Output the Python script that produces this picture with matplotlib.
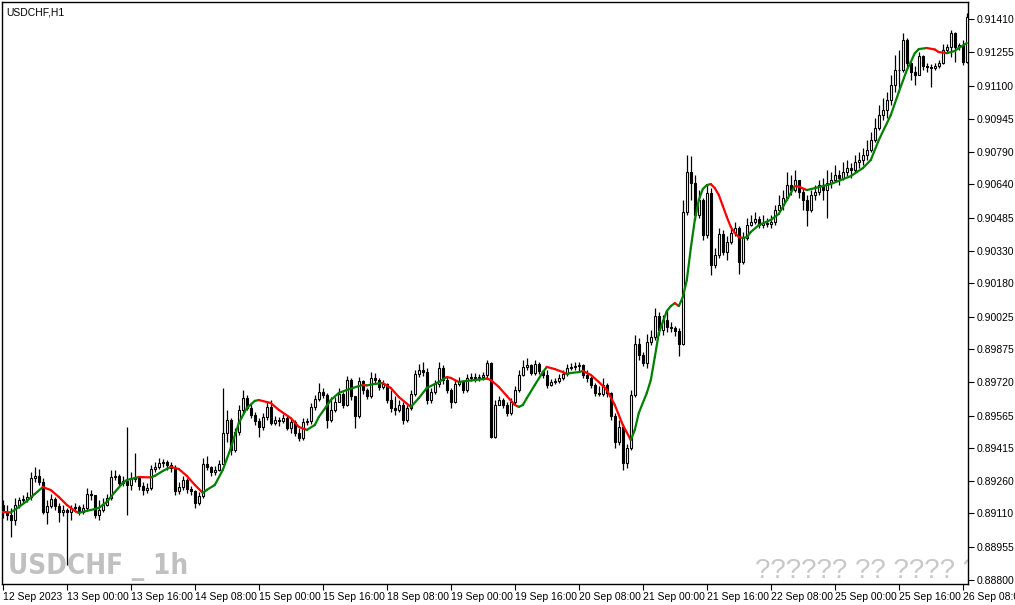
import matplotlib.pyplot as plt
from matplotlib.collections import LineCollection
import numpy as np

# USDCHF H1, 12 Sep 2023 08:00 .. 26 Sep 2023 09:00 (weekend skipped)
close = [0.89116, 0.89102, 0.89079, 0.89149, 0.89172, 0.89177, 0.89186, 0.89274, 0.89284, 0.89256,
         0.89116, 0.89144, 0.89177, 0.89144, 0.89116, 0.89126, 0.89116, 0.89135, 0.89139, 0.89116,
         0.89135, 0.89200, 0.89195, 0.89102, 0.89126, 0.89149, 0.89181, 0.89279, 0.89284, 0.89251,
         0.89260, 0.89242, 0.89270, 0.89279, 0.89237, 0.89219, 0.89228, 0.89316, 0.89326, 0.89344,
         0.89349, 0.89335, 0.89321, 0.89214, 0.89232, 0.89265, 0.89223, 0.89214, 0.89158, 0.89191,
         0.89339, 0.89326, 0.89302, 0.89312, 0.89339, 0.89484, 0.89544, 0.89405, 0.89488, 0.89591,
         0.89646, 0.89600, 0.89567, 0.89540, 0.89512, 0.89558, 0.89605, 0.89530, 0.89544, 0.89540,
         0.89553, 0.89507, 0.89535, 0.89484, 0.89460, 0.89535, 0.89540, 0.89605, 0.89642, 0.89674,
         0.89660, 0.89544, 0.89591, 0.89628, 0.89665, 0.89614, 0.89730, 0.89656, 0.89563, 0.89726,
         0.89684, 0.89656, 0.89740, 0.89730, 0.89698, 0.89712, 0.89637, 0.89600, 0.89591, 0.89614,
         0.89544, 0.89600, 0.89665, 0.89758, 0.89777, 0.89767, 0.89637, 0.89674, 0.89712, 0.89786,
         0.89730, 0.89684, 0.89628, 0.89712, 0.89726, 0.89684, 0.89740, 0.89744, 0.89740, 0.89744,
         0.89754, 0.89809, 0.89465, 0.89614, 0.89637, 0.89614, 0.89577, 0.89628, 0.89684, 0.89754,
         0.89791, 0.89800, 0.89763, 0.89805, 0.89772, 0.89754, 0.89707, 0.89721, 0.89726, 0.89740,
         0.89758, 0.89786, 0.89791, 0.89795, 0.89800, 0.89754, 0.89740, 0.89707, 0.89670, 0.89665,
         0.89707, 0.89670, 0.89563, 0.89442, 0.89512, 0.89344, 0.89414, 0.89660, 0.89898, 0.89847,
         0.89809, 0.89907, 0.89930, 0.90028, 0.89963, 0.90009, 0.89977, 0.89972, 0.89958, 0.89898,
         0.90512, 0.90698, 0.90647, 0.90498, 0.90568, 0.90405, 0.90600, 0.90265, 0.90312, 0.90409,
         0.90326, 0.90372, 0.90414, 0.90437, 0.90279, 0.90391, 0.90451, 0.90465, 0.90479, 0.90451,
         0.90461, 0.90456, 0.90465, 0.90521, 0.90544, 0.90577, 0.90637, 0.90614, 0.90661, 0.90605,
         0.90568, 0.90521, 0.90591, 0.90605, 0.90637, 0.90614, 0.90647, 0.90661, 0.90684, 0.90670,
         0.90698, 0.90716, 0.90707, 0.90744, 0.90754, 0.90777, 0.90800, 0.90847, 0.90903, 0.90963,
         0.90986, 0.91033, 0.91103, 0.91172, 0.91172, 0.91312, 0.91205, 0.91163, 0.91149, 0.91237,
         0.91191, 0.91186, 0.91182, 0.91191, 0.91205, 0.91265, 0.91279, 0.91344, 0.91279, 0.91289,
         0.91210, 0.91419]
high = [0.89172, 0.89149, 0.89135, 0.89181, 0.89186, 0.89195, 0.89209, 0.89302, 0.89326, 0.89316,
        0.89274, 0.89172, 0.89200, 0.89186, 0.89158, 0.89149, 0.89135, 0.89149, 0.89158, 0.89149,
        0.89153, 0.89228, 0.89219, 0.89186, 0.89172, 0.89181, 0.89200, 0.89312, 0.89312, 0.89293,
        0.89284, 0.89512, 0.89302, 0.89391, 0.89284, 0.89256, 0.89251, 0.89335, 0.89349, 0.89367,
        0.89363, 0.89358, 0.89349, 0.89335, 0.89256, 0.89284, 0.89274, 0.89237, 0.89219, 0.89209,
        0.89367, 0.89377, 0.89330, 0.89330, 0.89358, 0.89693, 0.89591, 0.89553, 0.89507, 0.89614,
        0.89684, 0.89660, 0.89623, 0.89581, 0.89553, 0.89577, 0.89628, 0.89637, 0.89563, 0.89558,
        0.89572, 0.89567, 0.89553, 0.89544, 0.89507, 0.89553, 0.89553, 0.89623, 0.89660, 0.89716,
        0.89693, 0.89670, 0.89651, 0.89651, 0.89693, 0.89674, 0.89749, 0.89740, 0.89656, 0.89744,
        0.89730, 0.89693, 0.89767, 0.89763, 0.89740, 0.89730, 0.89716, 0.89684, 0.89656, 0.89637,
        0.89628, 0.89614, 0.89684, 0.89777, 0.89805, 0.89814, 0.89786, 0.89693, 0.89730, 0.89814,
        0.89800, 0.89749, 0.89693, 0.89730, 0.89744, 0.89730, 0.89758, 0.89763, 0.89763, 0.89758,
        0.89767, 0.89823, 0.89814, 0.89637, 0.89656, 0.89646, 0.89628, 0.89646, 0.89702, 0.89777,
        0.89823, 0.89833, 0.89805, 0.89823, 0.89814, 0.89777, 0.89777, 0.89735, 0.89740, 0.89758,
        0.89777, 0.89805, 0.89809, 0.89814, 0.89814, 0.89805, 0.89777, 0.89749, 0.89716, 0.89702,
        0.89740, 0.89716, 0.89674, 0.89577, 0.89544, 0.89526, 0.89432, 0.89684, 0.89940, 0.89926,
        0.89860, 0.89944, 0.89963, 0.90065, 0.90047, 0.90033, 0.90056, 0.90000, 0.89981, 0.89972,
        0.90568, 0.90777, 0.90772, 0.90684, 0.90614, 0.90577, 0.90637, 0.90623, 0.90344, 0.90437,
        0.90428, 0.90400, 0.90437, 0.90465, 0.90447, 0.90419, 0.90484, 0.90498, 0.90512, 0.90493,
        0.90498, 0.90484, 0.90498, 0.90544, 0.90591, 0.90614, 0.90698, 0.90684, 0.90707, 0.90661,
        0.90623, 0.90591, 0.90614, 0.90637, 0.90661, 0.90670, 0.90707, 0.90698, 0.90730, 0.90707,
        0.90744, 0.90754, 0.90740, 0.90777, 0.90791, 0.90809, 0.90847, 0.90884, 0.90949, 0.91010,
        0.91042, 0.91070, 0.91149, 0.91242, 0.91265, 0.91344, 0.91321, 0.91210, 0.91191, 0.91256,
        0.91242, 0.91205, 0.91200, 0.91205, 0.91219, 0.91293, 0.91293, 0.91358, 0.91349, 0.91298,
        0.91312, 0.91437]
low = [0.89088, 0.89079, 0.89000, 0.89056, 0.89135, 0.89158, 0.89163, 0.89172, 0.89256, 0.89242,
       0.89107, 0.89060, 0.89135, 0.89126, 0.89070, 0.89098, 0.88870, 0.89079, 0.89116, 0.89102,
       0.89107, 0.89126, 0.89172, 0.89088, 0.89079, 0.89116, 0.89144, 0.89172, 0.89265, 0.89237,
       0.89237, 0.89102, 0.89219, 0.89256, 0.89219, 0.89195, 0.89205, 0.89219, 0.89302, 0.89316,
       0.89326, 0.89312, 0.89302, 0.89195, 0.89200, 0.89219, 0.89205, 0.89195, 0.89135, 0.89149,
       0.89181, 0.89312, 0.89284, 0.89288, 0.89307, 0.89395, 0.89442, 0.89381, 0.89395, 0.89474,
       0.89572, 0.89591, 0.89553, 0.89521, 0.89465, 0.89498, 0.89544, 0.89521, 0.89521, 0.89516,
       0.89530, 0.89498, 0.89484, 0.89470, 0.89446, 0.89451, 0.89521, 0.89526, 0.89591, 0.89633,
       0.89646, 0.89507, 0.89535, 0.89581, 0.89637, 0.89600, 0.89609, 0.89637, 0.89507, 0.89553,
       0.89665, 0.89642, 0.89646, 0.89712, 0.89684, 0.89688, 0.89623, 0.89581, 0.89567, 0.89581,
       0.89526, 0.89535, 0.89591, 0.89656, 0.89744, 0.89749, 0.89619, 0.89623, 0.89665, 0.89698,
       0.89712, 0.89670, 0.89600, 0.89623, 0.89702, 0.89670, 0.89674, 0.89726, 0.89721, 0.89726,
       0.89730, 0.89740, 0.89460, 0.89460, 0.89614, 0.89600, 0.89563, 0.89567, 0.89619, 0.89674,
       0.89749, 0.89777, 0.89754, 0.89754, 0.89758, 0.89740, 0.89693, 0.89702, 0.89712, 0.89716,
       0.89730, 0.89749, 0.89777, 0.89777, 0.89772, 0.89740, 0.89721, 0.89693, 0.89656, 0.89656,
       0.89656, 0.89651, 0.89544, 0.89414, 0.89428, 0.89312, 0.89321, 0.89405, 0.89651, 0.89823,
       0.89795, 0.89786, 0.89893, 0.89916, 0.89940, 0.89940, 0.89954, 0.89954, 0.89935, 0.89842,
       0.89893, 0.90498, 0.90568, 0.90475, 0.90484, 0.90382, 0.90391, 0.90219, 0.90251, 0.90298,
       0.90312, 0.90288, 0.90363, 0.90400, 0.90223, 0.90270, 0.90382, 0.90447, 0.90456, 0.90437,
       0.90437, 0.90442, 0.90437, 0.90451, 0.90512, 0.90521, 0.90568, 0.90591, 0.90605, 0.90577,
       0.90521, 0.90447, 0.90512, 0.90568, 0.90591, 0.90568, 0.90484, 0.90623, 0.90651, 0.90637,
       0.90661, 0.90679, 0.90670, 0.90698, 0.90716, 0.90730, 0.90754, 0.90791, 0.90837, 0.90893,
       0.90940, 0.90949, 0.91010, 0.91070, 0.91079, 0.91163, 0.91182, 0.91126, 0.91103, 0.91163,
       0.91172, 0.91163, 0.91093, 0.91172, 0.91182, 0.91200, 0.91251, 0.91233, 0.91210, 0.91265,
       0.91196, 0.91205]
open_first = 0.89149

# smoothed trend line (bar index, value)
ma_bar = [0, 2, 4, 6, 8, 10, 12, 14, 16, 18, 19, 21, 23, 24, 26, 28, 30, 31, 33, 34,
          35, 37, 38, 40, 42, 44, 46, 48, 50, 51, 53, 55, 57, 59, 61, 63, 64, 67, 69, 72,
          74, 76, 78, 79, 82, 84, 86, 89, 90, 91, 93, 95, 97, 99, 102, 104, 106, 109, 111, 112,
          113, 114, 116, 118, 121, 122, 124, 126, 128, 129, 130, 131, 133, 135, 136, 138, 140, 141, 142, 144,
          145, 147, 149, 151, 153, 155, 157, 158, 159, 161, 162, 163, 164, 166, 167, 168, 169, 170, 171, 172,
          173, 174, 175, 176, 177, 178, 179, 180, 181, 182, 183, 184, 185, 186, 187, 189, 192, 194, 196, 198,
          199, 201, 203, 207, 212, 215, 217, 219, 222, 224, 226, 227, 228, 229, 231, 233, 234, 236, 238, 239,
          241]
ma_val = [0.89116, 0.89114, 0.89139, 0.89167, 0.89200, 0.89232, 0.89218, 0.89186, 0.89149, 0.89121,
          0.89112, 0.89121, 0.89130, 0.89135, 0.89163, 0.89209, 0.89251, 0.89265, 0.89274, 0.89279,
          0.89278, 0.89277, 0.89284, 0.89307, 0.89326, 0.89316, 0.89284, 0.89242, 0.89205, 0.89219,
          0.89242, 0.89312, 0.89414, 0.89530, 0.89600, 0.89633, 0.89637, 0.89623, 0.89591, 0.89553,
          0.89512, 0.89498, 0.89521, 0.89558, 0.89637, 0.89670, 0.89684, 0.89702, 0.89707, 0.89705,
          0.89712, 0.89716, 0.89693, 0.89651, 0.89605, 0.89646, 0.89693, 0.89721, 0.89744, 0.89740,
          0.89730, 0.89721, 0.89726, 0.89730, 0.89737, 0.89730, 0.89698, 0.89656, 0.89614, 0.89605,
          0.89614, 0.89646, 0.89707, 0.89767, 0.89791, 0.89781, 0.89767, 0.89758, 0.89763, 0.89767,
          0.89772, 0.89754, 0.89721, 0.89684, 0.89614, 0.89521, 0.89451, 0.89498, 0.89577, 0.89670,
          0.89730, 0.89837, 0.89949, 0.90051, 0.90074, 0.90088, 0.90074, 0.90116, 0.90195, 0.90344,
          0.90475, 0.90568, 0.90619, 0.90637, 0.90642, 0.90623, 0.90591, 0.90540, 0.90489, 0.90442,
          0.90414, 0.90395, 0.90391, 0.90395, 0.90419, 0.90451, 0.90475, 0.90503, 0.90568, 0.90633,
          0.90630, 0.90614, 0.90623, 0.90642, 0.90679, 0.90716, 0.90754, 0.90847, 0.90963, 0.91070,
          0.91172, 0.91210, 0.91251, 0.91270, 0.91275, 0.91268, 0.91256, 0.91251, 0.91261, 0.91275,
          0.91298]

y_ticks = [0.88800, 0.88955, 0.89110, 0.89260, 0.89415, 0.89565, 0.89720, 0.89875, 0.90025,
           0.90180, 0.90330, 0.90485, 0.90640, 0.90790, 0.90945, 0.91100, 0.91255, 0.91410]
x_tick_bars = [0, 16, 32, 48, 64, 80, 96, 112, 128, 144, 160, 176, 192, 208, 224, 240]
x_tick_labels = ["12 Sep 2023", "13 Sep 00:00", "13 Sep 16:00", "14 Sep 08:00", "15 Sep 00:00",
                 "15 Sep 16:00", "18 Sep 08:00", "19 Sep 00:00", "19 Sep 16:00", "20 Sep 08:00",
                 "21 Sep 00:00", "21 Sep 16:00", "22 Sep 08:00", "25 Sep 00:00", "25 Sep 16:00",
                 "26 Sep 08:00"]

plt.rcParams['font.family'] = ['Liberation Sans', 'DejaVu Sans']

fig = plt.figure(figsize=(10.15, 6.05), dpi=100)
ax = fig.add_axes([0.002, 0.0347, 0.9517, 0.962])

c = np.array(close)
o = np.array([open_first] + close[:-1])
h = np.array(high)
lo = np.array(low)
x = np.arange(len(c))

# wicks
ax.vlines(x, lo, h, color='black', linewidth=0.9, zorder=2)
# bodies: white = up, black = down
bull = c >= o
body = np.maximum(np.abs(c - o), 0.00002)
ax.bar(x[bull], body[bull], bottom=np.minimum(o, c)[bull], width=0.55,
       color='white', edgecolor='black', linewidth=0.8, zorder=3)
ax.bar(x[~bull], body[~bull], bottom=np.minimum(o, c)[~bull], width=0.55,
       color='black', edgecolor='black', linewidth=0.8, zorder=3)

# trend line, green when rising, red when falling
pts = np.column_stack([ma_bar, ma_val])
segs = np.stack([pts[:-1], pts[1:]], axis=1)
cols = ['#ff0000' if b < a else '#008000' for a, b in zip(ma_val[:-1], ma_val[1:])]
ax.add_collection(LineCollection(segs, colors=cols, linewidths=1.6, zorder=4,
                                 capstyle='round', joinstyle='round'))

ax.set_xlim(-0.2, 241.3)
ax.set_ylim(0.88781, 0.91489)

ax.yaxis.tick_right()
ax.set_yticks(y_ticks)
ax.set_yticklabels([f"{v:.5f}" for v in y_ticks])
ax.set_xticks(x_tick_bars)
ax.set_xticklabels(x_tick_labels, ha='left')
ax.tick_params(axis='both', labelsize=7.5, length=4, width=0.8, colors='black', pad=2)
for s in ax.spines.values():
    s.set_linewidth(1)

# labels and watermarks
ax.text(0.004, 0.982, "USDCHF,H1", transform=ax.transAxes, fontsize=7.5,
        ha='left', va='center')
ax.text(0.006, 0.006, "USDCHF _ 1h", transform=ax.transAxes, fontsize=20,
        family='DejaVu Sans', fontstretch='condensed', fontweight='bold',
        color='#c0c0c0', ha='left', va='bottom', zorder=1)
ax.text(0.78, 0.0, "?????? ?? ???? ???", transform=ax.transAxes, fontsize=20,
        color='#c8c8c8', ha='left', va='bottom', zorder=1, clip_on=True)

fig.savefig("out.png", dpi=100)
